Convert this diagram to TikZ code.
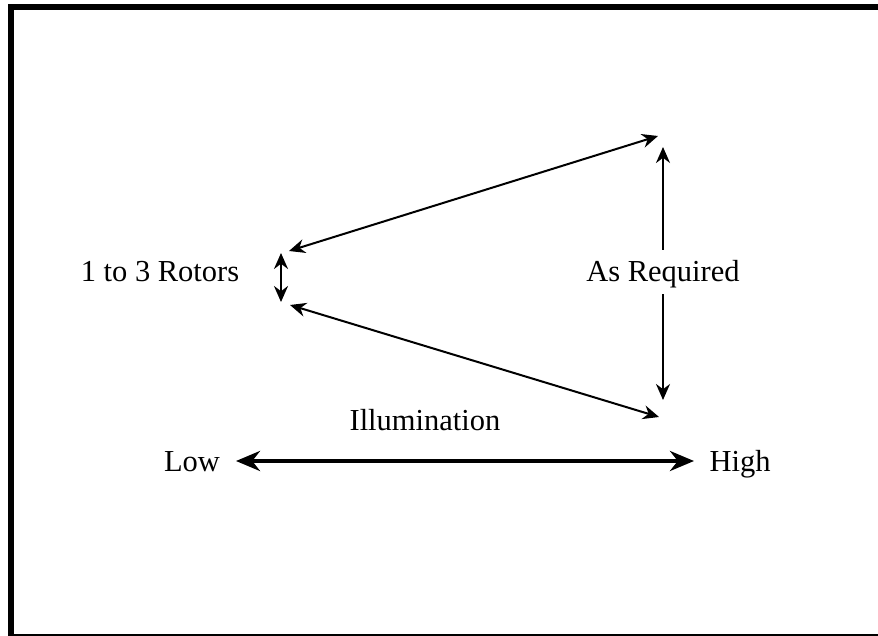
\documentclass[tikz,border=0pt]{standalone}
\usepackage{fontspec}
\setmainfont{Liberation Serif}
\usetikzlibrary{arrows.meta}
\begin{document}
\begin{tikzpicture}[x=1pt,y=-1pt,
  lbl/.style={font=\fontsize{30.5}{36}\selectfont, inner sep=2pt, text height=24pt, text depth=4pt},
  thinarrow/.style={line width=2pt, {Stealth[length=16pt,width=14pt]}-{Stealth[length=16pt,width=14pt]}},
  boldarrow/.style={line width=4pt, {Stealth[length=24pt,width=20pt]}-{Stealth[length=24pt,width=20pt]}}]
  \useasboundingbox (0,0) rectangle (878,636);
  % frame: heavy left and top rules, light bottom rule
  \fill (8,4) rectangle (14,636);
  \fill (8,4) rectangle (878,10);
  \fill (14,633.5) rectangle (878,636);

  % labels
  \node[lbl] (rotors) at (160,272) {1 to 3 Rotors};
  \node[lbl] (illum) at (425,420) {Illumination};
  \node[lbl] (low) at (192,461) {Low};
  \node[lbl] (high) at (740,461) {High};

  % arrow end points
  \coordinate (rtop) at (281,253);
  \coordinate (rbot) at (281,302);
  \coordinate (uleft) at (289,251);
  \coordinate (uright) at (658,136);
  \coordinate (lleft) at (290,305);
  \coordinate (lright) at (659,417);
  \coordinate (vtop) at (663,147);
  \coordinate (vbot) at (663,400);
  \coordinate (hleft) at (236,461);
  \coordinate (hright) at (694,461);

  \draw[thinarrow] (rtop) -- (rbot);
  \draw[thinarrow] (uleft) -- (uright);
  \draw[thinarrow] (lleft) -- (lright);
  \draw[thinarrow] (vtop) -- (vbot);
  \node[lbl, fill=white, inner ysep=8pt] (req) at (663,272) {As Required};
  \draw[boldarrow] (hleft) -- (hright);
\end{tikzpicture}
\end{document}
